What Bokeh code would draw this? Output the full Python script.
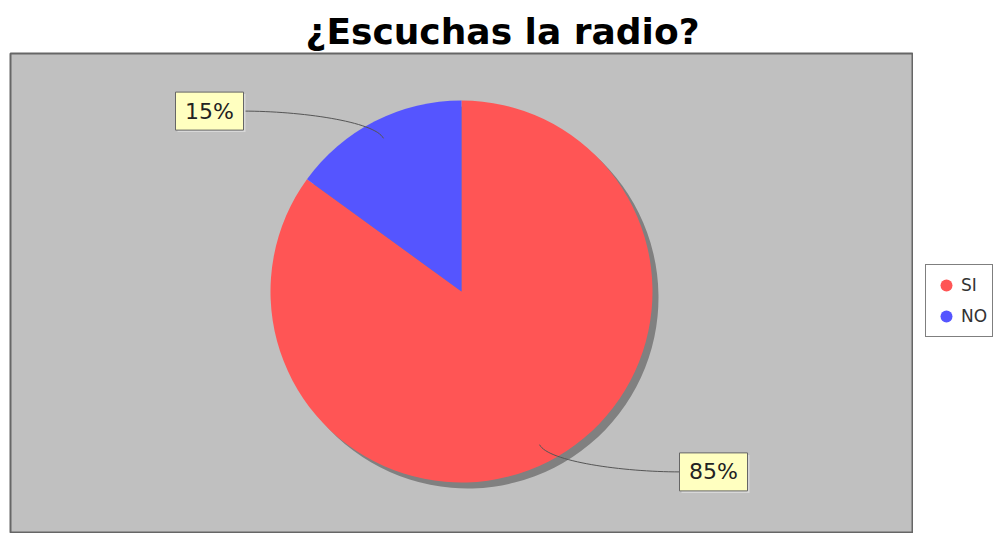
import math
from bokeh.plotting import figure
from bokeh.layouts import row
from bokeh.models import Range1d, Legend, LegendItem, ColumnDataSource
from bokeh.embed import file_html
from bokeh.resources import INLINE
from bokeh.core.properties import value

# ---- data ----
title_text = "¿Escuchas la radio?"
categories = ["SI", "NO"]
values = [85, 15]
colors = ["#FF5555", "#5555FF"]

# ---- layout ----
W, H = 913, 533          # main chart
LW = 80                  # legend strip
LB, RB, TB, BB = 10, 1, 53, 0
FW, FH = W - LB - RB, H - TB - BB
CX, CY, R = 451, 242, 191        # pie centre / radius in frame pixels
SHADOW = 6
LABEL_GAP = 218                  # distance from centre to label box inner edge
BOX_W, BOX_H = 68, 38

total = float(sum(values))
fracs = [v / total for v in values]
cum = [0.0]
for f in fracs:
    cum.append(cum[-1] + f)
start = [math.pi / 2 - 2 * math.pi * cum[i] for i in range(len(values))]
end = [math.pi / 2 - 2 * math.pi * cum[i + 1] for i in range(len(values))]
mid = [(s + e) / 2 for s, e in zip(start, end)]
labels = [f"{round(f * 100)}%" for f in fracs]

p = figure(width=W, height=H, output_backend="svg", toolbar_location=None,
           x_range=Range1d(0, FW), y_range=Range1d(0, FH),
           x_axis_type=None, y_axis_type=None,
           min_border_left=LB, min_border_right=RB,
           min_border_top=TB, min_border_bottom=BB)
p.grid.visible = False
p.background_fill_color = "#C0C0C0"
p.border_fill_color = "white"
p.outline_line_color = "#666666"
p.outline_line_width = 2

p.title.text = title_text
p.title.text_font = "DejaVu Sans"
p.title.text_font_style = "bold"
p.title.text_font_size = "36px"
p.title.text_color = "black"
p.title.align = "left"
p.title.offset = 295
p.title.standoff = 4

src = ColumnDataSource(dict(cat=categories, val=values, color=colors,
                            start=start, end=end))

# shadow
p.wedge(x=CX + SHADOW, y=CY - SHADOW, radius=R, start_angle="start",
        end_angle="end", direction="clock", source=src,
        fill_color="#808080", line_color=None)
# pie
p.wedge(x=CX, y=CY, radius=R, start_angle="start", end_angle="end",
        direction="clock", source=src, fill_color="color", line_color=None)

# labels + leader curves
lx, ly, ax, ay, bx, by, c0x, c0y, c1x, c1y = ([] for _ in range(10))
for m in mid:
    side = 1 if math.cos(m) >= 0 else -1
    yl = CY + 1.06 * R * math.sin(m)
    edge = CX + side * LABEL_GAP
    lx.append(edge + side * BOX_W / 2)
    ly.append(yl)
    axp = CX + 0.9 * R * math.cos(m)
    ayp = CY + 0.9 * R * math.sin(m)
    ax.append(axp); ay.append(ayp)
    bx.append(edge); by.append(yl)
    c0x.append(edge - side * 0.4 * abs(edge - axp)); c0y.append(yl)
    c1x.append(axp + 0.1 * R * math.cos(m)); c1y.append(ayp + 0.1 * R * math.sin(m))

p.bezier(x0=bx, y0=by, x1=ax, y1=ay, cx0=c0x, cy0=c0y, cx1=c1x, cy1=c1y,
         line_color="#555555", line_width=1)
p.rect(x=[x + 2 for x in lx], y=[y - 2 for y in ly], width=BOX_W, height=BOX_H,
       fill_color="#D8D8D8", line_color=None)
p.rect(x=lx, y=ly, width=BOX_W, height=BOX_H, fill_color="#FFFFC0",
       line_color="#666666", line_width=1)
p.text(x=lx, y=ly, text=labels, text_align="center", text_baseline="middle",
       text_font=value("DejaVu Sans"), text_font_size="22px", text_color="#222222")

# ---- legend strip (separate figure to the right) ----
lf = figure(width=LW, height=H, output_backend="svg", toolbar_location=None,
            x_range=Range1d(0, 1), y_range=Range1d(0, 1),
            x_axis_type=None, y_axis_type=None,
            min_border_left=0, min_border_right=0,
            min_border_top=0, min_border_bottom=0)
lf.grid.visible = False
lf.outline_line_color = None
lf.background_fill_color = "white"
lf.border_fill_color = "white"
sc = lf.scatter(x=[0] * len(categories), y=[0] * len(categories), size=0,
                fill_color=colors, line_color=None)
items = [LegendItem(label=c, renderers=[sc], index=i) for i, c in enumerate(categories)]
legend = Legend(items=items, location=(12, 196), orientation="vertical",
                padding=5, spacing=1, margin=0, glyph_width=30, glyph_height=30,
                label_height=30, label_standoff=-8,
                label_text_font="DejaVu Sans", label_text_font_size="17px",
                label_text_color="#333333",
                border_line_color="black", border_line_width=1,
                background_fill_color="white", background_fill_alpha=1)
lf.add_layout(legend, "center")

layout = row(p, lf, spacing=0)
open("out.html", "w").write(file_html(layout, INLINE))
